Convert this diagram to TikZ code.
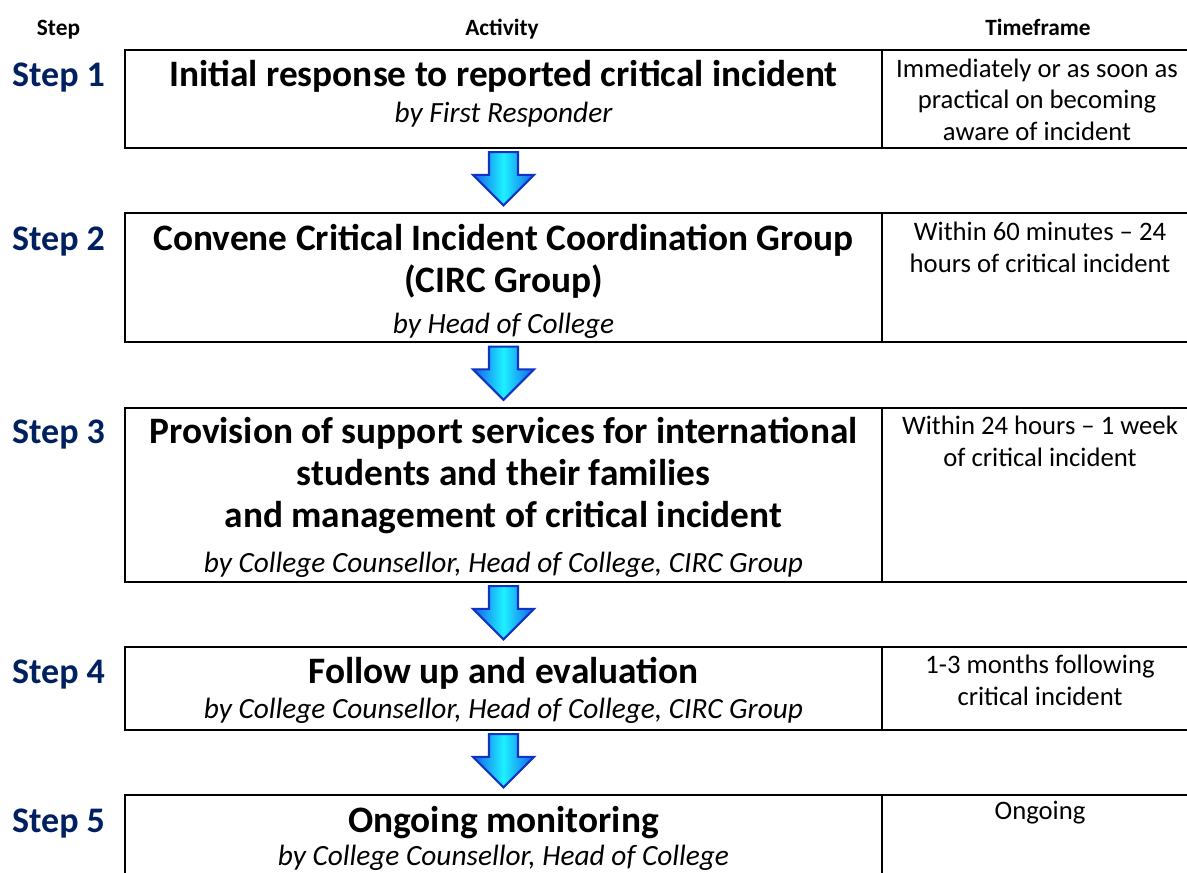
\documentclass[tikz,border=0pt]{standalone}
\usepackage{fontspec}
\setmainfont{Carlito}
\usetikzlibrary{shapes.arrows,calc,positioning}
\definecolor{stepblue}{RGB}{0,32,96}
\definecolor{arrowblue}{RGB}{20,60,230}
\definecolor{arrowcyan}{RGB}{30,240,255}

\begin{document}
\begin{tikzpicture}[x=0.75pt, y=-0.75pt,
    actbox/.style={draw, line width=1.5pt, minimum width=567.75pt, inner sep=0pt, outer sep=0pt},
    timebox/.style={draw, line width=1.5pt, minimum width=231pt, inner sep=0pt, outer sep=0pt},
    hdr/.style={font=\fontsize{17.5}{21}\selectfont\bfseries, anchor=base, inner sep=0pt},
    steplbl/.style={font=\fontsize{27}{32}\selectfont\bfseries, text=stepblue, anchor=base, inner sep=0pt},
    headline/.style={font=\fontsize{28}{31.5}\selectfont\bfseries, anchor=base, align=center, inner sep=0pt},
    byline/.style={font=\fontsize{22}{26}\selectfont\itshape, anchor=base, inner sep=0pt},
    tframe/.style={font=\fontsize{20}{23.5}\selectfont, anchor=base, align=center, inner sep=0pt},
    blockarrow/.style={single arrow, shape border rotate=270, draw=arrowblue!85!black, line width=1.6pt,
        left color=arrowblue!80!arrowcyan, right color=arrowblue!80!arrowcyan, middle color=arrowcyan,
        inner xsep=10.1pt, inner ysep=0pt, minimum height=40pt, minimum width=44pt,
        single arrow head extend=12pt}
]
\useasboundingbox (0,0) rectangle (1187,872);

% column headers
\node[hdr] (hstep) at (58.5,35) {Step};
\node[hdr] (hact) at (502,35) {Activity};
\node[hdr] (htime) at (1038,35) {Timeframe};

% boxes, one row per step
\node[actbox, minimum height=73.5pt] (act1) at (503.5,99) {};
\node[timebox, minimum height=73.5pt] (tf1) at (1036,99) {};
\node[actbox, minimum height=96.75pt] (act2) at (503.5,277.5) {};
\node[timebox, minimum height=96.75pt] (tf2) at (1036,277.5) {};
\node[actbox, minimum height=130.5pt] (act3) at (503.5,495) {};
\node[timebox, minimum height=130.5pt] (tf3) at (1036,495) {};
\node[actbox, minimum height=62.25pt] (act4) at (503.5,688.5) {};
\node[timebox, minimum height=62.25pt] (tf4) at (1036,688.5) {};
\node[actbox, minimum height=82.5pt] (act5) at (503.5,850) {};
\node[timebox, minimum height=82.5pt] (tf5) at (1036,850) {};

% step labels
\node[steplbl] (s1) at (58.5,86) {Step 1};
\node[steplbl] (s2) at (58.5,250) {Step 2};
\node[steplbl] (s3) at (58.5,443) {Step 3};
\node[steplbl] (s4) at (58.5,683) {Step 4};
\node[steplbl] (s5) at (58.5,832) {Step 5};

% activities (base = last line)
\node[headline] (t1) at (503.5,86) {Initial response to reported critical incident};
\node[byline] (b1) at (503.5,122) {by First Responder};
\node[headline] (t2) at (503.5,292) {Convene Critical Incident Coordination Group\\(CIRC Group)};
\node[byline] (b2) at (503.5,333) {by Head of College};
\node[headline] (t3) at (503.5,527) {Provision of support services for international\\students and their families\\and management of critical incident};
\node[byline] (b3) at (503.5,572) {by College Counsellor, Head of College, CIRC Group};
\node[headline] (t4) at (503.5,683) {Follow up and evaluation};
\node[byline] (b4) at (503.5,718) {by College Counsellor, Head of College, CIRC Group};
\node[headline] (t5) at (503.5,832) {Ongoing monitoring};
\node[byline] (b5) at (503.5,865) {by College Counsellor, Head of College};

% timeframes
\node[tframe] (f1) at (1037,140) {Immediately or as soon as\\practical on becoming\\aware of incident};
\node[tframe] (f2) at (1040,272) {Within 60 minutes -- 24\\hours of critical incident};
\node[tframe] (f3) at (1040,466) {Within 24 hours -- 1 week\\of critical incident};
\node[tframe] (f4) at (1040,705) {1-3 months following\\critical incident};
\node[tframe] (f5) at (1040,819) {Ongoing};

% arrows between steps
\node[blockarrow] (a12) at ($(act1.south)!0.5!(act2.north)+(0,-9)$) {};
\node[blockarrow] (a23) at ($(act2.south)!0.5!(act3.north)+(0,-9)$) {};
\node[blockarrow] (a34) at ($(act3.south)!0.5!(act4.north)+(0,-9)$) {};
\node[blockarrow] (a45) at ($(act4.south)!0.5!(act5.north)+(0,-9)$) {};
\end{tikzpicture}
\end{document}
